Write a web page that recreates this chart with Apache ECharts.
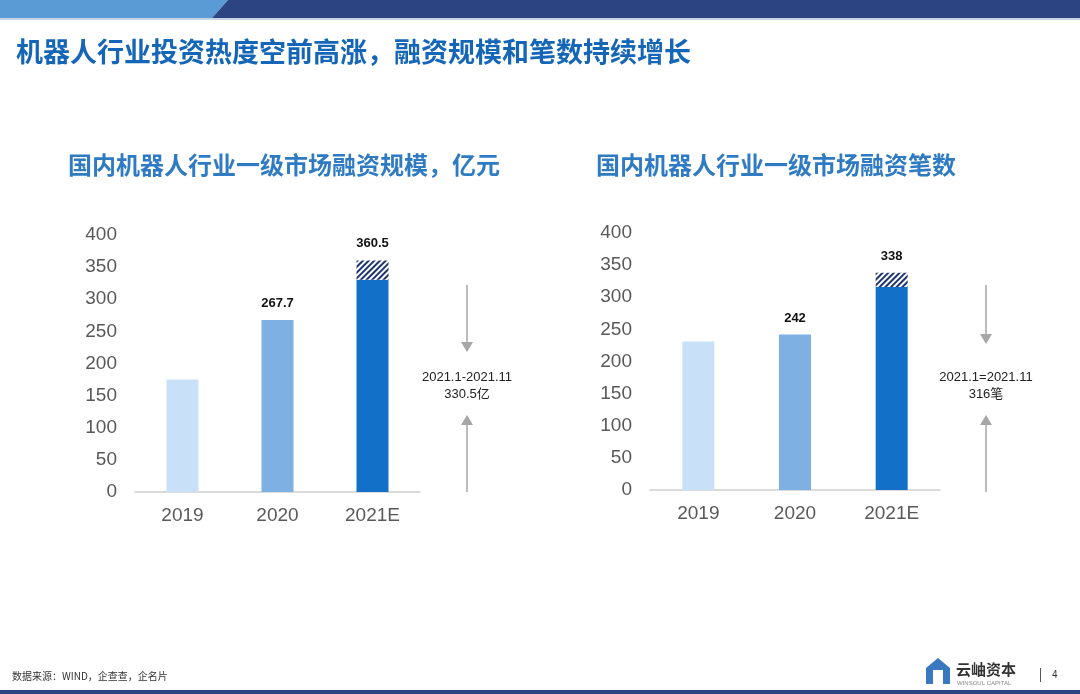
<!DOCTYPE html>
<html><head><meta charset="utf-8">
<script src="https://cdn.jsdelivr.net/npm/echarts@6/dist/echarts.min.js"></script>
<style>html,body{margin:0;padding:0;background:#fff}#c{width:1080px;height:694px}</style>
</head><body><div id="c"></div>
<script>
const categories = ['2019','2020','2021E'];
const amountBase = [175, 267.7, 330.5];
const amountExtra = [0, 0, 30];
const amountTotalLabels = ['', '267.7', '360.5'];
const countBase = [231, 242, 316];
const countExtra = [0, 0, 22];
const countTotalLabels = ['', '242', '338'];
const yTicks = {min:0, max:400, interval:50};
const barColors = ['#c9e1f8','#7fb0e3','#1270c8'];

const chart = echarts.init(document.getElementById('c'));
function axes(i){
  return {
    x:{type:'category',data:categories,gridIndex:i,axisTick:{show:false},
      axisLine:{lineStyle:{color:'#d0d0d0',width:1.5}},
      axisLabel:{color:'#595959',fontSize:19,fontFamily:'Arial, Liberation Sans',margin:14}},
    y:{type:'value',gridIndex:i,min:yTicks.min,max:yTicks.max,interval:yTicks.interval,
      splitLine:{show:false},axisLine:{show:false},axisTick:{show:false},
      axisLabel:{color:'#595959',fontSize:19,fontFamily:'Arial, Liberation Sans',margin:18}}
  };
}
const a0=axes(0),a1=axes(1);
function seriesFor(i,base,extra,labels){
  return [
    {type:'bar',xAxisIndex:i,yAxisIndex:i,stack:'s'+i,barWidth:32,
     data:base.map((v,k)=>({value:v,itemStyle:{color:barColors[k]}})),
     label:{show:true,position:'top',distance:10,fontWeight:'bold',fontSize:13,color:'#111',fontFamily:'Arial, Liberation Sans',
       formatter:p=>(extra[p.dataIndex]===0?labels[p.dataIndex]:'')}},
    {type:'bar',xAxisIndex:i,yAxisIndex:i,stack:'s'+i,barWidth:32,
     data:extra.map(v=>v||null),
     itemStyle:{color:'#ffffff',decal:{symbol:'rect',symbolSize:1,dashArrayX:[1,0],dashArrayY:[2,2],rotation:-Math.PI/4,color:'#1f3570'}},
     label:{show:true,position:'top',distance:10,fontWeight:'bold',fontSize:13,color:'#111',fontFamily:'Arial, Liberation Sans',
       formatter:p=>labels[p.dataIndex]}}
  ];
}
function arrowGroup(x,yTop,yMid1,yText,yMid2,yBot,l1,l2){
  return [
    {type:'line',shape:{x1:x,y1:yTop,x2:x,y2:yMid1-8},style:{stroke:'#a6a6a6',lineWidth:1.5}},
    {type:'polygon',shape:{points:[[x-6,yMid1-10],[x+6,yMid1-10],[x,yMid1]]},style:{fill:'#a6a6a6'}},
    {type:'text',style:{text:l1+'\n'+l2,x:x,y:yText,align:'center',verticalAlign:'middle',font:'13px Arial, "Noto Sans CJK SC"',fill:'#222',lineHeight:17}},
    {type:'polygon',shape:{points:[[x-6,yMid2+10],[x+6,yMid2+10],[x,yMid2]]},style:{fill:'#a6a6a6'}},
    {type:'line',shape:{x1:x,y1:yMid2+8,x2:x,y2:yBot},style:{stroke:'#a6a6a6',lineWidth:1.5}}
  ];
}
chart.setOption({
  animation:false,
  grid:[{left:135,right:660,top:235,bottom:202},{left:650,right:140,top:233,bottom:204}],
  xAxis:[a0.x,a1.x], yAxis:[a0.y,a1.y],
  series:[...seriesFor(0,amountBase,amountExtra,amountTotalLabels),...seriesFor(1,countBase,countExtra,countTotalLabels)],
  graphic:[
    {type:'polygon',shape:{points:[[0,0],[228,0],[212,18],[0,18]]},style:{fill:'#5b9bd5'}},
    {type:'polygon',shape:{points:[[228,0],[1080,0],[1080,18],[212,18]]},style:{fill:'#2c4482'}},
    {type:'rect',shape:{x:0,y:18,width:1080,height:2},style:{fill:'#c8d4e6'}},
    {type:'text',style:{text:'机器人行业投资热度空前高涨，融资规模和笔数持续增长',x:16,y:52,verticalAlign:'middle',font:'bold 27px "Noto Sans CJK SC"',fill:'#1666b8'}},
    {type:'text',style:{text:'国内机器人行业一级市场融资规模，亿元',x:68,y:165,verticalAlign:'middle',font:'bold 24px "Noto Sans CJK SC"',fill:'#2e7bc4'}},
    {type:'text',style:{text:'国内机器人行业一级市场融资笔数',x:596,y:165,verticalAlign:'middle',font:'bold 24px "Noto Sans CJK SC"',fill:'#2e7bc4'}},
    ...arrowGroup(467,285,352,386,415,492,'2021.1-2021.11','330.5亿'),
    ...arrowGroup(986,285,344,386,415,492,'2021.1=2021.11','316笔'),
    {type:'text',style:{text:'数据来源：WIND，企查查，企名片',x:12,y:676,verticalAlign:'middle',font:'10px "Noto Sans CJK SC"',fill:'#333'}},
    {type:'polygon',shape:{points:[[926,668],[938,658],[950,668],[950,684],[926,684]]},style:{fill:'#3a78c0'}},
    {type:'rect',shape:{x:933,y:670,width:10,height:14},style:{fill:'#fff'}},
    {type:'text',style:{text:'云岫资本',x:956,y:669,verticalAlign:'middle',font:'bold 15px "Noto Sans CJK SC"',fill:'#333'}},
    {type:'text',style:{text:'WINSOUL CAPITAL',x:957,y:683,verticalAlign:'middle',font:'6px Arial',fill:'#888'}},
    {type:'rect',shape:{x:1040,y:668,width:1,height:14},style:{fill:'#555'}},
    {type:'text',style:{text:'4',x:1052,y:675,verticalAlign:'middle',font:'10px Arial',fill:'#333'}},
    {type:'rect',shape:{x:0,y:690,width:1080,height:4},style:{fill:'#2c4482'}}
  ]
});
</script></body></html>
